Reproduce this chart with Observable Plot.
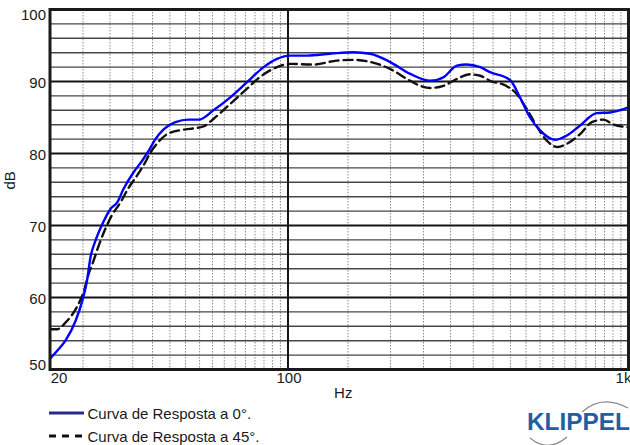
<!DOCTYPE html>
<html>
<head>
<meta charset="utf-8">
<script src="https://cdn.jsdelivr.net/npm/d3@7"></script>
<script src="https://cdn.jsdelivr.net/npm/@observablehq/plot@0.6"></script>
<style>
  html, body { margin: 0; padding: 0; background: #fff; overflow: hidden; }
  #wrap { position: relative; width: 630px; height: 445px; font-family: Arial, "Liberation Sans", sans-serif; }
  #legend { position: relative; width: 630px; height: 45px; }
  #legend svg { overflow: visible; }
</style>
</head>
<body>
<div id="wrap">
  <div id="chart"></div>
  <div id="legend"></div>
</div>
<script>
// ---- data ----
const freq0 = [20, 21, 22.2, 23.8, 24.9, 25.7, 26.3, 27.2, 28.5, 30.1, 31.5, 32.9, 35.2, 37.3, 39.0, 40.8, 43.2, 46.7, 51.1, 54.7, 60.4, 67.7, 75.8, 84.8, 92.8, 101.6, 113.7, 133, 155.7, 174.3, 199.6, 228.6, 261.7, 286.2, 313.3, 335, 366.7, 392, 449, 480, 514, 550, 608, 659, 721, 806, 882, 1000];
const db0 = [51.5, 52.6, 54.0, 56.8, 59.6, 62.4, 65.6, 67.9, 70.2, 72.3, 73.2, 75.1, 77.4, 79.0, 80.4, 82.0, 83.4, 84.35, 84.7, 84.7, 86.0, 87.8, 89.9, 92.0, 93.15, 93.6, 93.6, 93.85, 94.07, 93.85, 92.7, 91.05, 90.1, 90.6, 92.2, 92.36, 91.98, 91.3, 90.2, 87.8, 85.0, 83.2, 81.9, 82.5, 83.9, 85.6, 85.7, 86.4];

const freq45 = [20, 21, 22.2, 24.0, 25.2, 25.9, 26.8, 27.8, 29.0, 30.3, 32.2, 34.1, 36.1, 37.9, 39.3, 41.8, 44.6, 50, 52.9, 56.4, 60.4, 67.7, 75.8, 82.6, 92.8, 101.6, 119, 139, 155.7, 171, 187, 204, 223.6, 244.6, 261.7, 286, 313, 342, 367, 392, 437, 469, 505, 540, 575, 620, 659, 721, 780, 842, 905, 1000];
const db45 = [55.6, 55.6, 56.5, 58.7, 61.0, 63.1, 65.0, 67.2, 69.4, 71.3, 73.2, 75.3, 77.0, 78.6, 80.0, 81.7, 82.8, 83.35, 83.5, 83.75, 84.8, 86.9, 89.0, 90.6, 92.0, 92.45, 92.36, 92.9, 93.0, 92.8, 92.3, 91.5, 90.35, 89.4, 89.1, 89.4, 90.35, 91.0, 90.8, 90.1, 89.4, 88.3, 86.0, 83.65, 81.8, 80.9, 81.35, 82.7, 84.35, 84.7, 84.0, 83.65];

const seriesNames = ["Curva de Resposta a 0°.", "Curva de Resposta a 45°."];

const yTickValues = [50, 60, 70, 80, 90, 100];
const yMinorGrid = [52, 54, 56, 58, 62, 64, 66, 68, 72, 74, 76, 78, 82, 84, 86, 88, 92, 94, 96, 98];
const yMajorGrid = [60, 70, 80, 90];
const xTickValues = [20, 100, 1000];
const xTickLabels = ["20", "100", "1k"];
const xMinorGrid = [25, 30, 35, 40, 45, 50, 55, 60, 65, 70, 75, 80, 85, 90, 95,
                    150, 200, 250, 300, 350, 400, 450, 500, 550, 600, 650, 700, 750, 800, 850, 900, 950];
const xMajorGrid = [100];

const d0 = freq0.map((f, i) => ({f, db: db0[i]}));
const d45 = freq45.map((f, i) => ({f, db: db45[i]}));

const font = "Arial, 'Liberation Sans', sans-serif";

const chart = Plot.plot({
  width: 630,
  height: 400,
  marginLeft: 49.5,
  marginRight: 2,
  marginTop: 9,
  marginBottom: 31,
  x: {type: "log", domain: [20, 1000], axis: null},
  y: {domain: [50, 100], axis: null},
  style: {fontFamily: font, fontSize: "15px", background: "#fff", overflow: "visible", color: "#1a1a1a"},
  marks: [
    Plot.ruleX(xMinorGrid, {stroke: "#8c8c8c", strokeWidth: 1, strokeDasharray: "1.5,1.5"}),
    Plot.ruleY(yMinorGrid, {stroke: "#474747", strokeWidth: 1.4}),
    Plot.ruleY(yMajorGrid, {stroke: "#151515", strokeWidth: 2.2}),
    Plot.ruleX(xMajorGrid, {stroke: "#151515", strokeWidth: 2}),
    Plot.line(d45, {x: "f", y: "db", stroke: "#111", strokeWidth: 2.4, strokeDasharray: "9,5", curve: "monotone-x"}),
    Plot.line(d0, {x: "f", y: "db", stroke: "#0000ff", strokeWidth: 2.4, curve: "monotone-x"}),
    Plot.frame({stroke: "#1a1a1a", strokeWidth: 3}),
    // y tick labels
    Plot.text(yTickValues.filter(v => v > 50 && v < 100), {y: d => d, text: d => String(d), frameAnchor: "left", textAnchor: "end", dx: -4, dy: 2, fill: "#1a1a1a"}),
    Plot.text(yTickValues.filter(v => v === 100), {y: d => d, text: d => String(d), frameAnchor: "left", textAnchor: "end", dx: -4, dy: 6, fill: "#1a1a1a"}),
    Plot.text(yTickValues.filter(v => v === 50), {y: d => d, text: d => String(d), frameAnchor: "left", textAnchor: "end", dx: -4, dy: -4, fill: "#1a1a1a"}),
    // x tick labels
    Plot.text([0], {x: i => xTickValues[i], text: i => xTickLabels[i], frameAnchor: "bottom", textAnchor: "middle", dx: 9, dy: 13, fill: "#1a1a1a"}),
    Plot.text([1], {x: i => xTickValues[i], text: i => xTickLabels[i], frameAnchor: "bottom", textAnchor: "middle", dx: 1, dy: 13, fill: "#1a1a1a"}),
    Plot.text([2], {x: i => xTickValues[i], text: i => xTickLabels[i], frameAnchor: "bottom", textAnchor: "middle", dx: -5, dy: 13, fill: "#1a1a1a"}),
    // axis titles
    Plot.text(["Hz"], {frameAnchor: "bottom", dx: 4, dy: 28, fill: "#1a1a1a"}),
    Plot.text(["dB"], {frameAnchor: "left", dx: -39.5, rotate: -90, fill: "#1a1a1a"})
  ]
});
document.getElementById("chart").appendChild(chart);

// ---- legend + logo (below the plot SVG) ----
const L = d3.select("#legend").append("svg").attr("width", 630).attr("height", 45);
L.append("line").attr("x1", 49).attr("x2", 84).attr("y1", 13).attr("y2", 13)
  .attr("stroke", "#2a2a8c").attr("stroke-width", 3);
L.append("line").attr("x1", 49).attr("x2", 84).attr("y1", 36).attr("y2", 36)
  .attr("stroke", "#111").attr("stroke-width", 3).attr("stroke-dasharray", "7,6");
L.selectAll("text.leg").data(seriesNames).join("text").attr("class", "leg")
  .attr("x", 87.5).attr("y", (d, i) => 18.5 + i * 23)
  .attr("font-family", font).attr("font-size", 15).attr("fill", "#1a1a1a").text(d => d);
// logo arcs
L.append("path").attr("d", "M582,12 Q602,-6 628,8").attr("fill", "none").attr("stroke", "#8a8a8a").attr("stroke-width", 1.2);
L.append("path").attr("d", "M530,38 Q548,53 567,37").attr("fill", "none").attr("stroke", "#8a8a8a").attr("stroke-width", 1.2);
L.append("text").attr("x", 527).attr("y", 30).attr("font-family", font).attr("font-weight", "bold")
  .attr("font-size", 24.5).attr("fill", "#1f60a3").attr("textLength", 103).attr("lengthAdjust", "spacingAndGlyphs")
  .text("KLIPPEL");
</script>
</body>
</html>
